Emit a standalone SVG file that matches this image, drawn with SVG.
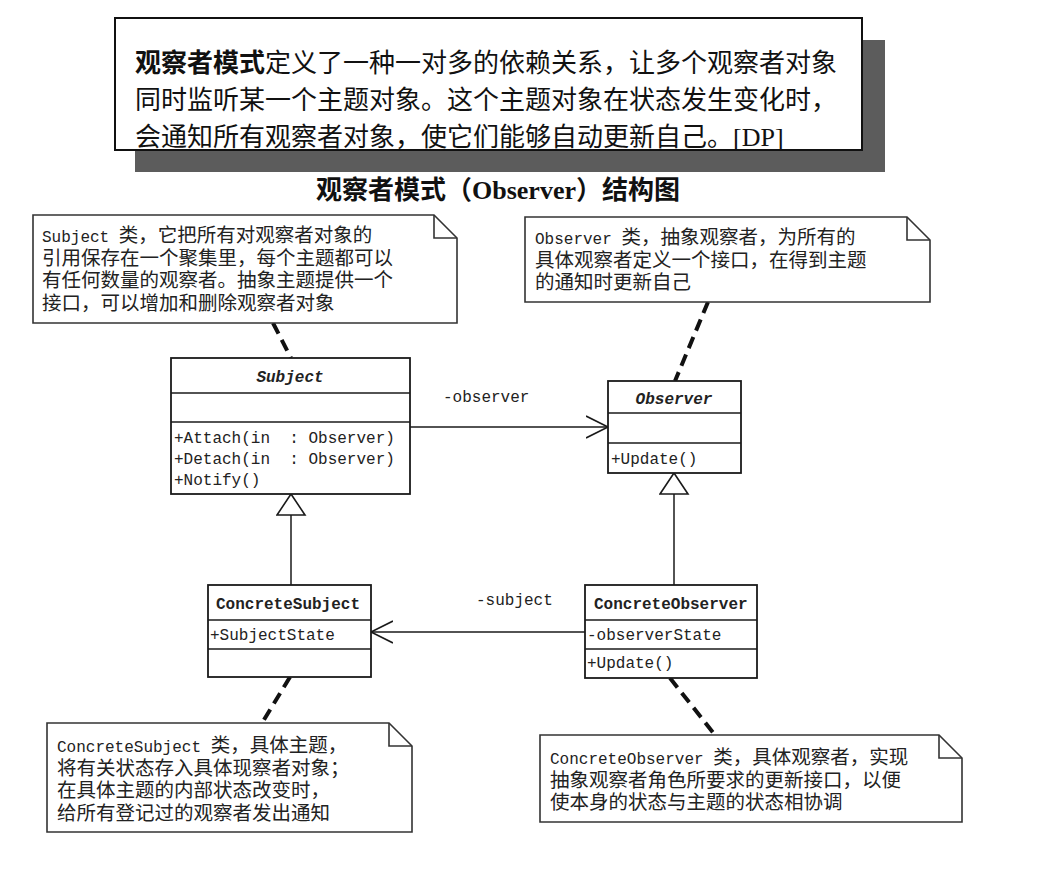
<svg xmlns="http://www.w3.org/2000/svg" width="1041" height="872" viewBox="0 0 1041 872">
<defs>
<style>
.box{fill:#fff;stroke:#1a1a1a;stroke-width:1.8}
.sep{fill:none;stroke:#1a1a1a;stroke-width:1.6}
.note{fill:#fff;stroke:#333;stroke-width:1.6}
.fold{fill:none;stroke:#333;stroke-width:1.6}
.line{fill:none;stroke:#1a1a1a;stroke-width:1.5}
.dash{fill:none;stroke:#111;stroke-width:4;stroke-dasharray:12 7}
.mono{font-family:"Liberation Mono","Noto Sans CJK SC",monospace;font-size:16px;fill:#222;white-space:pre}
.nt{font-family:"Liberation Mono","Noto Sans CJK SC",monospace;font-size:19.5px;fill:#222}
.lat{font-size:16px}
.big{font-family:"Liberation Serif","Noto Sans CJK SC",serif;font-size:26px;fill:#111}
</style>
<marker id="open" markerUnits="userSpaceOnUse" markerWidth="26" markerHeight="26" refX="22" refY="12" orient="auto">
<path d="M0,1 L22,12 L0,23" fill="none" stroke="#1a1a1a" stroke-width="1.6"/>
</marker>
<marker id="tri" markerUnits="userSpaceOnUse" markerWidth="24" markerHeight="32" refX="22" refY="15" orient="auto">
<path d="M1,1 L22,15 L1,29 Z" fill="#fff" stroke="#1a1a1a" stroke-width="1.6"/>
</marker>
</defs>
<rect width="1041" height="872" fill="#fff"/>

<g id="definition">
<rect x="135" y="40" width="750" height="132" fill="#5c5c5c"/>
<rect x="115" y="18" width="747" height="132" fill="#fff" stroke="#111" stroke-width="2"/>
<text class="big" x="135" y="72"><tspan font-weight="bold">观察者模式</tspan>定义了一种一对多的依赖关系，让多个观察者对象</text>
<text class="big" x="135" y="109">同时监听某一个主题对象。这个主题对象在状态发生变化时，</text>
<text class="big" x="135" y="146">会通知所有观察者对象，使它们能够自动更新自己。[DP]</text>
</g>

<g id="title">
<text x="498" y="199" text-anchor="middle" font-family="Liberation Serif,Noto Sans CJK SC,serif" font-size="26" font-weight="bold" fill="#111">观察者模式（Observer）结构图</text>
</g>

<g id="connectors">
<line class="dash" x1="273" y1="323" x2="291" y2="358"/>
<line class="dash" x1="708" y1="302" x2="675" y2="381"/>
<line class="dash" x1="290" y1="677" x2="262" y2="723"/>
<line class="dash" x1="670" y1="678" x2="715" y2="735"/>
<line class="line" x1="410" y1="427" x2="608" y2="427" marker-end="url(#open)"/>
<line class="line" x1="585" y1="632" x2="371" y2="632" marker-end="url(#open)"/>
<line class="line" x1="291" y1="585" x2="291" y2="494" marker-end="url(#tri)"/>
<line class="line" x1="674" y1="585" x2="674" y2="473" marker-end="url(#tri)"/>
<text class="mono" x="443" y="402">-observer</text>
<text class="mono" x="476" y="605">-subject</text>
</g>

<g id="note-subject">
<path class="note" d="M33,215 H434 L457,238 V323 H33 Z"/>
<path class="fold" d="M434,215 V238 H457"/>
<text class="nt" x="42" y="242"><tspan class="lat">Subject </tspan>类，它把所有对观察者对象的</text>
<text class="nt" x="42" y="264.5">引用保存在一个聚集里，每个主题都可以</text>
<text class="nt" x="42" y="287">有任何数量的观察者。抽象主题提供一个</text>
<text class="nt" x="42" y="309.5">接口，可以增加和删除观察者对象</text>
</g>

<g id="note-observer">
<path class="note" d="M525,217 H907 L930,240 V302 H525 Z"/>
<path class="fold" d="M907,217 V240 H930"/>
<text class="nt" x="535" y="244"><tspan class="lat">Observer </tspan>类，抽象观察者，为所有的</text>
<text class="nt" x="535" y="266.5">具体观察者定义一个接口，在得到主题</text>
<text class="nt" x="535" y="289">的通知时更新自己</text>
</g>

<g id="class-subject">
<rect class="box" x="171" y="358" width="239" height="136"/>
<line class="sep" x1="171" y1="393" x2="410" y2="393"/>
<line class="sep" x1="171" y1="422" x2="410" y2="422"/>
<text class="mono" x="290" y="382" text-anchor="middle" font-style="italic" font-weight="bold">Subject</text>
<text class="mono" x="174" y="443" xml:space="preserve">+Attach(in  : Observer)</text>
<text class="mono" x="174" y="464" xml:space="preserve">+Detach(in  : Observer)</text>
<text class="mono" x="174" y="485">+Notify()</text>
</g>

<g id="class-observer">
<rect class="box" x="608" y="381" width="133" height="92"/>
<line class="sep" x1="608" y1="413" x2="741" y2="413"/>
<line class="sep" x1="608" y1="443" x2="741" y2="443"/>
<text class="mono" x="674" y="404" text-anchor="middle" font-style="italic" font-weight="bold">Observer</text>
<text class="mono" x="611" y="464">+Update()</text>
</g>

<g id="class-concretesubject">
<rect class="box" x="208" y="585" width="163" height="92"/>
<line class="sep" x1="208" y1="620" x2="371" y2="620"/>
<line class="sep" x1="208" y1="649" x2="371" y2="649"/>
<text class="mono" x="216" y="609" font-weight="bold" font-size="15">ConcreteSubject</text>
<text class="mono" x="210" y="640">+SubjectState</text>
</g>

<g id="class-concreteobserver">
<rect class="box" x="585" y="585" width="172" height="93"/>
<line class="sep" x1="585" y1="620" x2="757" y2="620"/>
<line class="sep" x1="585" y1="649" x2="757" y2="649"/>
<text class="mono" x="594" y="609" font-weight="bold" font-size="15">ConcreteObserver</text>
<text class="mono" x="587" y="640">-observerState</text>
<text class="mono" x="587" y="668">+Update()</text>
</g>

<g id="note-concretesubject">
<path class="note" d="M47,723 H389 L412,746 V832 H47 Z"/>
<path class="fold" d="M389,723 V746 H412"/>
<text class="nt" x="57" y="752"><tspan class="lat">ConcreteSubject </tspan>类，具体主题，</text>
<text class="nt" x="57" y="774.5">将有关状态存入具体现察者对象；</text>
<text class="nt" x="57" y="797">在具体主题的内部状态改变时，</text>
<text class="nt" x="57" y="819.5">给所有登记过的观察者发出通知</text>
</g>

<g id="note-concreteobserver">
<path class="note" d="M540,735 H939 L962,758 V822 H540 Z"/>
<path class="fold" d="M939,735 V758 H962"/>
<text class="nt" x="550" y="764"><tspan class="lat">ConcreteObserver </tspan>类，具体观察者，实现</text>
<text class="nt" x="550" y="786.5">抽象观察者角色所要求的更新接口，以便</text>
<text class="nt" x="550" y="809">使本身的状态与主题的状态相协调</text>
</g>
</svg>
